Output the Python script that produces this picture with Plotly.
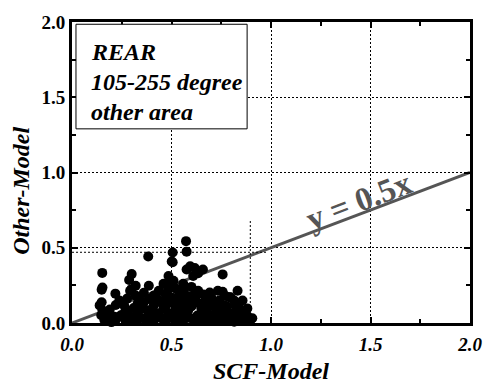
import plotly.graph_objects as go

# Scatter data (SCF-Model vs Other-Model)
scf = [0.573, 0.576, 0.506, 0.506, 0.485, 0.485, 0.485, 0.383, 0.152, 0.153,
       0.149, 0.149, 0.139, 0.153, 0.147, 0.188, 0.218, 0.300, 0.287, 0.320,
       0.299, 0.292, 0.320, 0.361, 0.386, 0.345, 0.378, 0.411, 0.444, 0.460,
       0.419, 0.287, 0.246, 0.213, 0.378, 0.328, 0.485, 0.469, 0.172, 0.238,
       0.271, 0.337, 0.452, 0.510, 0.551, 0.584, 0.617, 0.667, 0.716, 0.766,
       0.799, 0.848, 0.873, 0.896, 0.594, 0.609, 0.617, 0.658, 0.634, 0.576,
       0.757, 0.692, 0.757, 0.832, 0.797, 0.609, 0.584, 0.624, 0.673, 0.791,
       0.815, 0.494, 0.494, 0.584, 0.650, 0.683, 0.723, 0.766, 0.840, 0.807,
       0.865, 0.574, 0.624, 0.692, 0.748, 0.815, 0.525, 0.475, 0.543, 0.559,
       0.501, 0.515, 0.535, 0.550, 0.634, 0.708, 0.733, 0.658, 0.693, 0.559,
       0.857, 0.881, 0.906, 0.163, 0.198, 0.312, 0.411, 0.436, 0.262, 0.277,
       0.337, 0.361, 0.411, 0.238, 0.436, 0.386, 0.460,
       0.46, 0.50, 0.53, 0.56, 0.60, 0.63, 0.66, 0.69, 0.72, 0.75,
       0.78, 0.82, 0.85, 0.88, 0.47, 0.52, 0.56, 0.60, 0.64, 0.68,
       0.71, 0.74, 0.78, 0.82, 0.86, 0.50, 0.54, 0.58, 0.62, 0.66,
       0.70, 0.74, 0.77, 0.17, 0.22, 0.26, 0.30, 0.33, 0.36, 0.39,
       0.42, 0.31, 0.27, 0.40, 0.19, 0.22, 0.33, 0.43, 0.47, 0.52,
       0.56, 0.60, 0.51]
other = [0.544, 0.474, 0.469, 0.404, 0.312, 0.260, 0.227, 0.442, 0.333, 0.236,
         0.221, 0.138, 0.117, 0.084, 0.052, 0.052, 0.195, 0.325, 0.286, 0.247,
         0.225, 0.214, 0.182, 0.138, 0.160, 0.095, 0.084, 0.117, 0.138, 0.095,
         0.052, 0.052, 0.052, 0.041, 0.019, 0.019, 0.052, 0.193, 0.063, 0.041,
         0.019, 0.084, 0.031, 0.063, 0.019, 0.084, 0.019, 0.063, 0.031, 0.073,
         0.031, 0.063, 0.019, 0.019, 0.377, 0.312, 0.366, 0.355, 0.331, 0.355,
         0.323, 0.203, 0.208, 0.214, 0.171, 0.182, 0.138, 0.138, 0.162, 0.171,
         0.149, 0.138, 0.063, 0.097, 0.097, 0.063, 0.071, 0.117, 0.097, 0.063,
         0.041, 0.032, 0.019, 0.019, 0.019, 0.008, 0.019, 0.019, 0.073, 0.162,
         0.409, 0.149, 0.214, 0.117, 0.214, 0.149, 0.214, 0.117, 0.130, 0.260,
         0.149, 0.097, 0.032, 0.019, 0.006, 0.032, 0.019, 0.065, 0.117, 0.162,
         0.162, 0.201, 0.182, 0.149, 0.214, 0.247, 0.260,
         0.02, 0.04, 0.02, 0.05, 0.03, 0.05, 0.02, 0.05, 0.02, 0.05,
         0.02, 0.04, 0.02, 0.05, 0.11, 0.10, 0.12, 0.11, 0.13, 0.10,
         0.12, 0.09, 0.11, 0.12, 0.08, 0.17, 0.19, 0.18, 0.17, 0.19,
         0.17, 0.15, 0.18, 0.02, 0.02, 0.06, 0.03, 0.06, 0.03, 0.05,
         0.03, 0.10, 0.09, 0.09, 0.09, 0.12, 0.13, 0.16, 0.15, 0.23,
         0.22, 0.24, 0.28]

ref_x = [0.0, 2.0]
ref_y = [0.0, 1.0]

tick_vals = [0.0, 0.5, 1.0, 1.5, 2.0]
tick_text = ["0.0", "0.5", "1.0", "1.5", "2.0"]

box_lines = ["REAR", "105-255 degree", "other area"]

FONT = "Liberation Serif"
DOTS = "2px,2px"

fig = go.Figure()

fig.add_trace(go.Scatter(x=ref_x, y=ref_y, mode="lines",
                         line=dict(color="#555555", width=3),
                         showlegend=False, hoverinfo="skip"))
fig.add_trace(go.Scatter(x=scf, y=other, mode="markers",
                         marker=dict(color="black", size=10, line=dict(width=0)),
                         cliponaxis=False, showlegend=False))

# region boundary dotted lines
fig.add_shape(type="line", x0=0.896, x1=0.896, y0=0, y1=0.68,
              line=dict(color="black", width=1, dash=DOTS))
fig.add_shape(type="line", x0=0.0, x1=0.98, y0=0.47, y1=0.47,
              line=dict(color="black", width=1, dash=DOTS))

# text box
fig.add_shape(type="rect", x0=0.02, x1=0.88, y0=1.29, y1=1.985,
              line=dict(color="black", width=1), fillcolor="white", layer="above")
for i, t in enumerate(box_lines):
    fig.add_annotation(x=0.085, y=1.8 - i * 0.2, xref="x", yref="y", text=t,
                       showarrow=False, xanchor="left", yanchor="middle",
                       font=dict(family=FONT, size=24, color="black",
                                 weight="bold", style="italic"))

fig.add_annotation(x=1.44, y=0.81, xref="x", yref="y", text="y = 0.5x",
                   showarrow=False, textangle=-21,
                   font=dict(family=FONT, size=33, color="#555555", weight="bold"))

# axis titles
fig.add_annotation(x=0.5, y=-0.16, xref="paper", yref="paper", text="SCF-Model",
                   showarrow=False, xanchor="center", yanchor="middle",
                   font=dict(family=FONT, size=24, color="black",
                             weight="bold", style="italic"))
fig.add_annotation(x=-0.13, y=0.44, xref="paper", yref="paper", text="Other-Model",
                   showarrow=False, textangle=-90, xanchor="center", yanchor="middle",
                   font=dict(family=FONT, size=24, color="black",
                             weight="bold", style="italic"))

axis_common = dict(range=[0, 2], tickvals=tick_vals, ticktext=tick_text,
                   showline=True, linecolor="black", linewidth=3, mirror="ticks",
                   ticks="inside", ticklen=6, tickwidth=2, tickcolor="black",
                   showgrid=True, gridcolor="black", gridwidth=1, griddash=DOTS,
                   zeroline=False,
                   minor=dict(tickvals=[0.25, 0.75, 1.25, 1.75], ticks="inside",
                              ticklen=4, tickwidth=2, tickcolor="black", showgrid=False))

fig.update_xaxes(**axis_common, ticklabelstandoff=2,
                 tickfont=dict(family=FONT, size=19, color="black",
                               weight="bold", style="italic"))
fig.update_yaxes(**axis_common,
                 tickfont=dict(family=FONT, size=19, color="black", weight="bold"))

fig.update_layout(width=494, height=391,
                  margin=dict(l=72, r=18, t=15, b=68),
                  paper_bgcolor="white", plot_bgcolor="white")

fig.write_html("out.html")
